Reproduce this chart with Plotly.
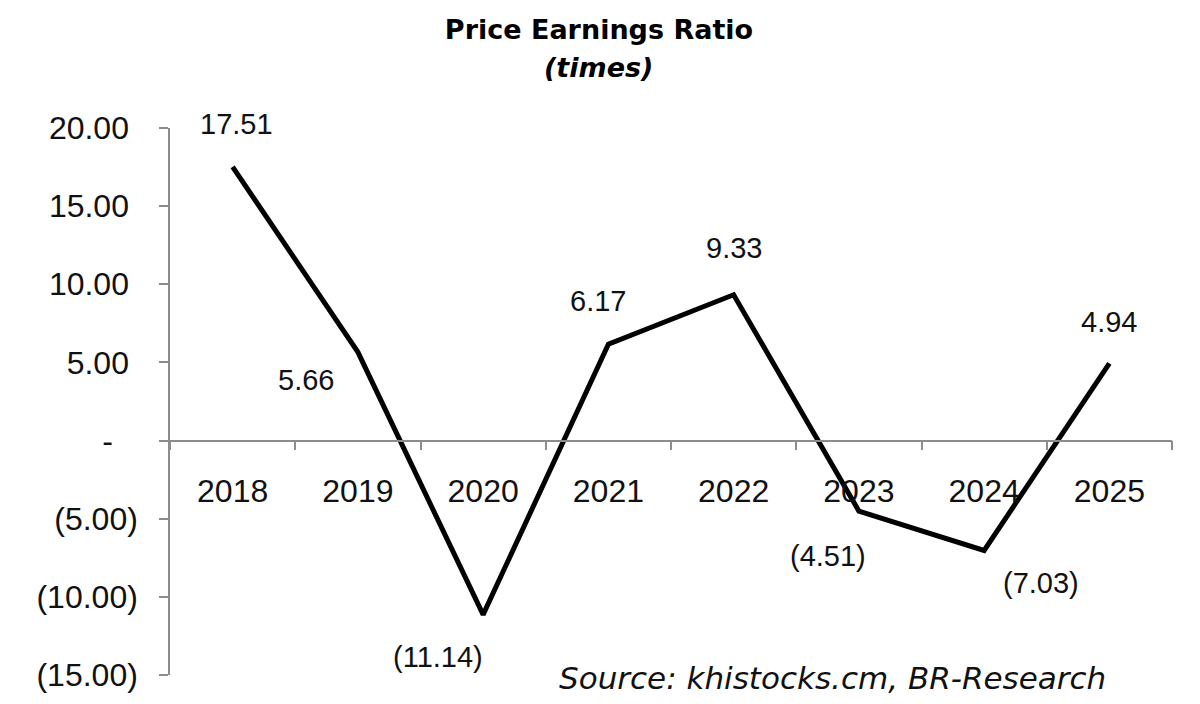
import plotly.graph_objects as go

years = ['2018', '2019', '2020', '2021', '2022', '2023', '2024', '2025']
pe_ratio = [17.51, 5.66, -11.14, 6.17, 9.33, -4.51, -7.03, 4.94]

y_tick_vals = [20, 15, 10, 5, 0, -5, -10, -15]
y_tick_text = ['20.00\u00a0', '15.00\u00a0', '10.00\u00a0', '5.00\u00a0', '-\u00a0\u2002',
               '(5.00)', '(10.00)', '(15.00)']

# label offsets in pixels (xshift, yshift) per point
label_shift = [(4, 43), (-52, -28), (-45, -42), (-10, 43), (0, 47), (-31, -45), (57, -33), (0, 41)]


def fmt(v):
    return '({:.2f})'.format(abs(v)) if v < 0 else '{:.2f}'.format(v)


fig = go.Figure(go.Scatter(
    x=years, y=pe_ratio, mode='lines',
    line=dict(color='black', width=5),
    cliponaxis=False, showlegend=False,
))

# category axis: annotations placed by category index
for i, (v, (dx, dy)) in enumerate(zip(pe_ratio, label_shift)):
    fig.add_annotation(x=i, y=v, text=fmt(v), showarrow=False,
                       xshift=dx, yshift=dy,
                       font=dict(family='Liberation Sans', size=29, color='#111'))

fig.add_annotation(xref='paper', yref='paper', x=0.428, y=1.11,
                   xanchor='center', yanchor='middle', showarrow=False,
                   text='<b><i>(times)</i></b>',
                   font=dict(family='DejaVu Sans', size=27, color='black'))

fig.add_annotation(xref='paper', yref='paper', x=0.936, y=-0.0055,
                   xanchor='right', yanchor='middle', showarrow=False,
                   text='<i>Source: khistocks.cm, BR-Research</i>',
                   font=dict(family='DejaVu Sans', size=31, color='#111'))

axis_grey = '#8c8c8c'
fig.update_layout(
    width=1200, height=704,
    margin=dict(l=162, r=36, t=120, b=37),
    paper_bgcolor='white', plot_bgcolor='white',
    title=dict(text='<b>Price Earnings Ratio</b>',
               xref='container', x=0.4925, xanchor='center',
               yref='container', y=0.969, yanchor='middle',
               font=dict(family='DejaVu Sans', size=27, color='black')),
    xaxis=dict(type='category', range=[-0.5, 7.5],
               anchor='free', position=15 / 35,
               showline=True, linecolor=axis_grey, linewidth=1.5,
               ticks='outside', tickson='boundaries', ticklen=9,
               tickcolor=axis_grey, tickwidth=1.5,
               ticklabelstandoff=22,
               showgrid=False, zeroline=False,
               tickfont=dict(family='Liberation Sans', size=32, color='#111')),
    yaxis=dict(range=[-15, 20], tickvals=y_tick_vals, ticktext=y_tick_text,
               showline=True, linecolor=axis_grey, linewidth=1.5,
               ticks='outside', ticklen=9, tickcolor=axis_grey, tickwidth=1.5,
               ticklabelstandoff=15,
               showgrid=False, zeroline=False,
               tickfont=dict(family='Liberation Sans', size=32, color='#111')),
)

fig.write_html('out.html')
